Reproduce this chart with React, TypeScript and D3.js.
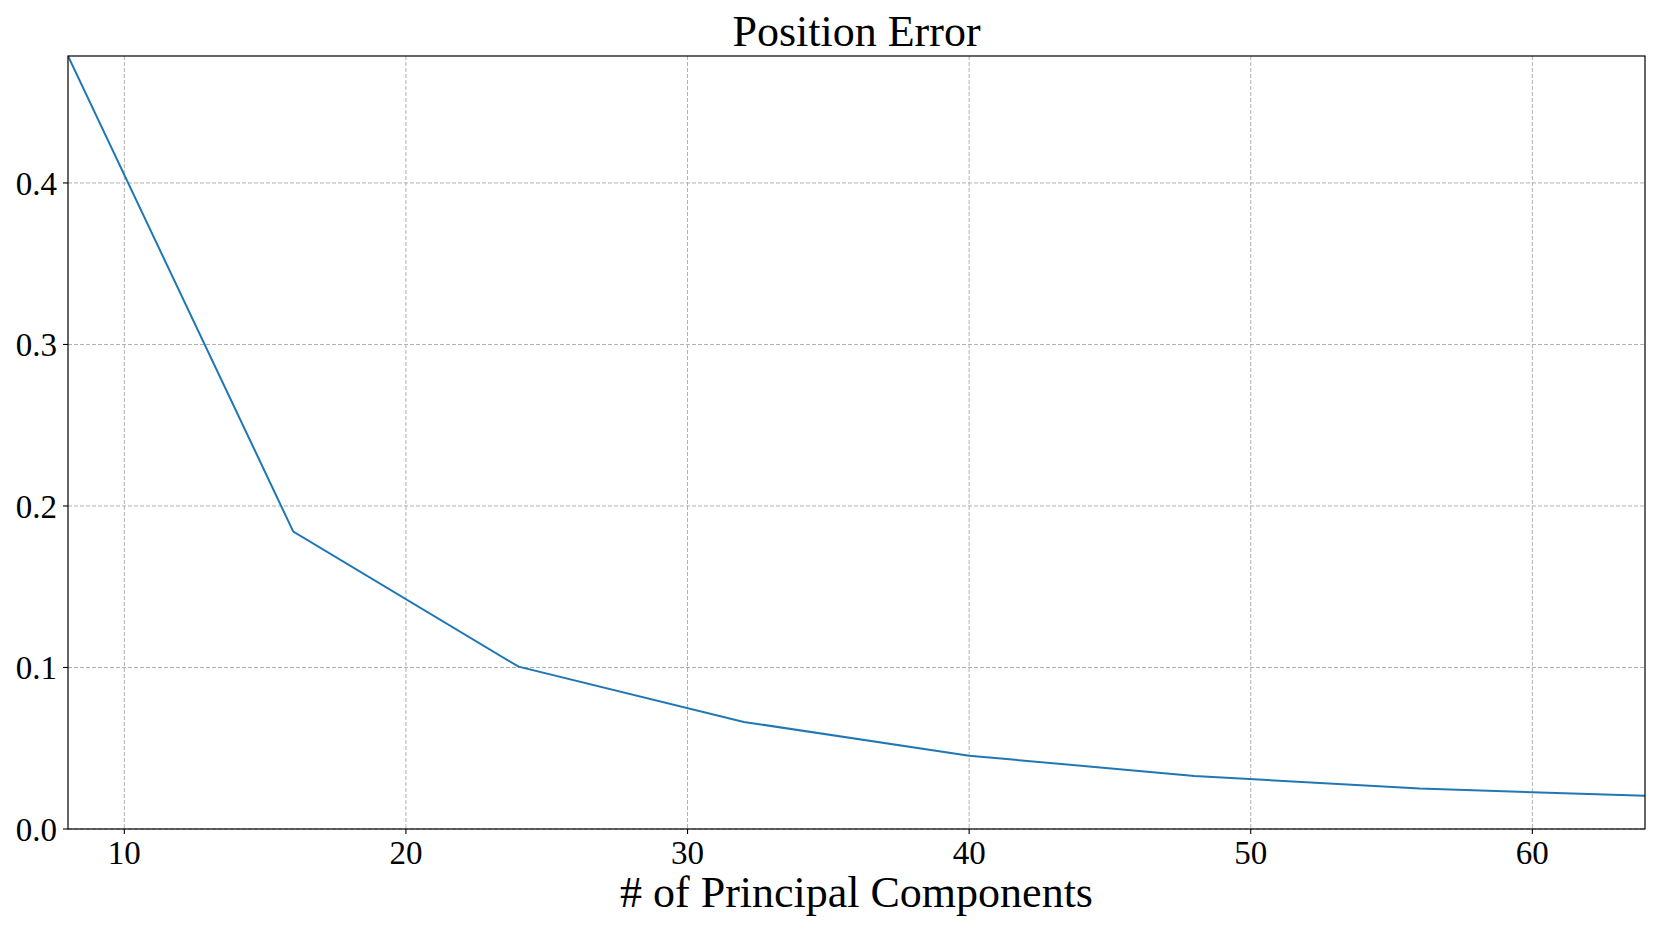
import React from "react";
import * as d3 from "d3";

const components = [8, 16, 24, 32, 40, 48, 56, 64];
const positionError = [0.4786, 0.1841, 0.1005, 0.0663, 0.0454, 0.0328, 0.025, 0.0206];
const xTicks = [10, 20, 30, 40, 50, 60];
const yTicks = [0.0, 0.1, 0.2, 0.3, 0.4];
const title = "Position Error";
const xLabel = "# of Principal Components";

const W = 1661;
const H = 934;
const M = { left: 68, right: 1645, top: 56, bottom: 829 };
const FONT = "'Liberation Serif', 'DejaVu Serif', serif";

export default function App() {
  const x = d3.scaleLinear().domain([8, 64]).range([M.left, M.right]);
  const y = d3.scaleLinear().domain([0, 0.4786]).range([M.bottom, M.top]);
  const line = d3
    .line<number>()
    .x((_, i) => x(components[i]))
    .y((d) => y(d));

  return (
    <svg
      width={W}
      height={H}
      style={{ position: "absolute", left: 0, top: 0, background: "#fff" }}
      fontFamily={FONT}
    >
      <rect x={0} y={0} width={W} height={H} fill="#fff" />
      {xTicks.map((t) => (
        <line
          key={"gx" + t}
          x1={x(t)}
          x2={x(t)}
          y1={M.top}
          y2={M.bottom}
          stroke="#b0b0b0"
          strokeWidth={1}
          strokeDasharray="4,2"
        />
      ))}
      {yTicks.map((t) => (
        <line
          key={"gy" + t}
          x1={M.left}
          x2={M.right}
          y1={y(t)}
          y2={y(t)}
          stroke="#b0b0b0"
          strokeWidth={1}
          strokeDasharray="4,2"
        />
      ))}
      <defs>
        <clipPath id="plotclip">
          <rect x={M.left} y={M.top - 2} width={M.right - M.left} height={M.bottom - M.top + 2} />
        </clipPath>
      </defs>
      <path
        d={line(positionError) || ""}
        fill="none"
        stroke="#1f77b4"
        strokeWidth={2}
        clipPath="url(#plotclip)"
      />
      <rect
        x={M.left}
        y={M.top}
        width={M.right - M.left}
        height={M.bottom - M.top}
        fill="none"
        stroke="#000"
        strokeWidth={1.2}
      />
      {xTicks.map((t) => (
        <g key={"xt" + t}>
          <line x1={x(t)} x2={x(t)} y1={M.bottom} y2={M.bottom + 5} stroke="#000" strokeWidth={1.1} />
          <text x={x(t)} y={864} textAnchor="middle" fontSize={33} fill="#000">
            {t}
          </text>
        </g>
      ))}
      {yTicks.map((t) => (
        <g key={"yt" + t}>
          <line x1={M.left - 5} x2={M.left} y1={y(t)} y2={y(t)} stroke="#000" strokeWidth={1.1} />
          <text x={57} y={y(t) + 12} textAnchor="end" fontSize={33} fill="#000">
            {t.toFixed(1)}
          </text>
        </g>
      ))}
      <text x={(M.left + M.right) / 2} y={46} textAnchor="middle" fontSize={44} fill="#000">
        {title}
      </text>
      <text x={(M.left + M.right) / 2} y={907} textAnchor="middle" fontSize={44} fill="#000">
        {xLabel}
      </text>
    </svg>
  );
}
